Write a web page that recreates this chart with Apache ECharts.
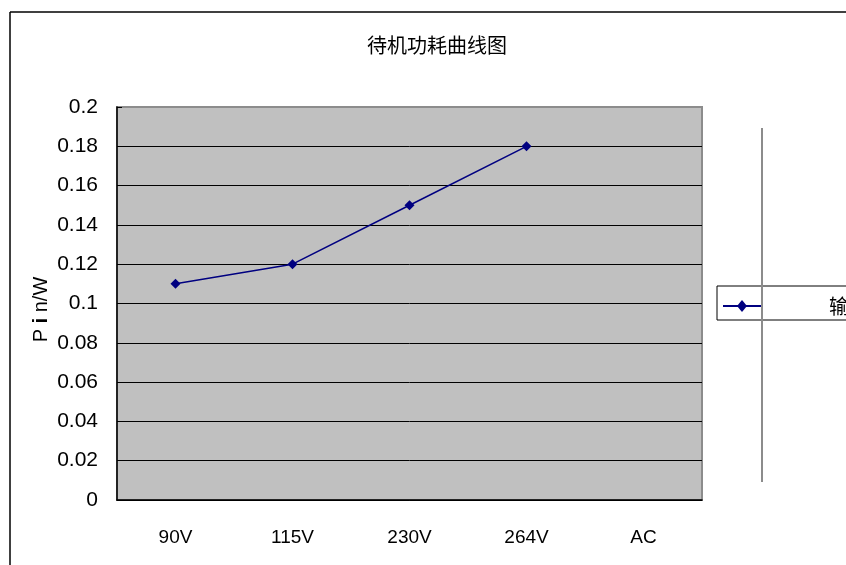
<!DOCTYPE html>
<html>
<head>
<meta charset="utf-8">
<script src="https://cdn.jsdelivr.net/npm/echarts@6/dist/echarts.min.js"></script>
<style>
  html, body { margin: 0; padding: 0; background: #fff; }
  #chart { width: 846px; height: 565px; }
</style>
</head>
<body>
<div id="chart"></div>
<script>
// 待机功耗数据
const categories = ['90V', '115V', '230V', '264V', 'AC'];
const pinValues = [0.11, 0.12, 0.15, 0.18, null];
const seriesName = '输入功率';

const chart = echarts.init(document.getElementById('chart'));
chart.setOption({
  backgroundColor: '#fff',
  animation: false,
  title: {
    text: '待机功耗曲线图',
    left: 432, top: 30, textAlign: 'center',
    textStyle: { fontFamily: 'Noto Sans CJK SC', fontWeight: 'normal', fontSize: 20, color: '#000' }
  },
  grid: {
    left: 117, right: 144, top: 107, bottom: 65,
    show: true, backgroundColor: '#c0c0c0', borderColor: '#8c8c8c', borderWidth: 2
  },
  xAxis: {
    type: 'category',
    data: categories,
    boundaryGap: true,
    axisLine: { lineStyle: { color: '#000', width: 1.5 } },
    axisTick: { inside: true, length: 6, lineStyle: { color: '#000' } },
    axisLabel: { margin: 28, fontFamily: 'Liberation Sans', fontSize: 19, color: '#000' },
    splitLine: { show: false }
  },
  yAxis: {
    type: 'value',
    min: 0, max: 0.2, interval: 0.02,
    name: '{a|P }{b|i}{a| n/W}',
    nameLocation: 'middle',
    nameGap: 66,
    nameMoveOverlap: false,
    nameRotate: 90,
    nameTextStyle: {
      padding: [0, 12, 0, 0],
      rich: {
        a: { fontFamily: 'Liberation Sans', fontSize: 20, color: '#000' },
        b: { fontFamily: 'Liberation Sans', fontSize: 20, fontWeight: 'bold', color: '#000' }
      }
    },
    axisLine: { show: true, lineStyle: { color: '#000', width: 1.5 } },
    axisTick: { show: true, inside: true, length: 5, lineStyle: { color: '#000' } },
    axisLabel: {
      margin: 19, fontFamily: 'Liberation Sans', fontSize: 21, color: '#000',
      formatter: v => String(parseFloat(v.toFixed(2)))
    },
    splitLine: {
      lineStyle: {
        color: ['#000', '#000', '#000', '#000', '#000', '#000', '#000', '#000', '#000', '#000', '#8c8c8c'],
        width: 1
      }
    }
  },
  series: [{
    name: seriesName,
    type: 'line',
    data: pinValues,
    symbol: 'diamond',
    symbolSize: 10,
    lineStyle: { color: '#000080', width: 1.5 },
    itemStyle: { color: '#000080' }
  }],
  graphic: [
    // 外框
    { type: 'line', shape: { x1: 10, y1: 12, x2: 846, y2: 12 }, style: { stroke: '#000', lineWidth: 1.5 } },
    { type: 'line', shape: { x1: 10, y1: 12, x2: 10, y2: 565 }, style: { stroke: '#000', lineWidth: 1.5 } },
    // 图例
    { type: 'rect', shape: { x: 717, y: 286, width: 200, height: 34 }, style: { fill: '#fff', stroke: '#000', lineWidth: 1 } },
    { type: 'line', shape: { x1: 723, y1: 306, x2: 762, y2: 306 }, style: { stroke: '#000080', lineWidth: 2 } },
    { type: 'polygon', shape: { points: [[742, 300], [747, 306], [742, 312], [737, 306]] }, style: { fill: '#000080' } },
    { type: 'text', x: 829, y: 306, style: { text: seriesName, fontFamily: 'Noto Sans CJK SC', fontSize: 20, fill: '#000', verticalAlign: 'middle' } },
    { type: 'line', shape: { x1: 762, y1: 128, x2: 762, y2: 482 }, style: { stroke: '#8c8c8c', lineWidth: 2 } }
  ]
});
</script>
</body>
</html>
